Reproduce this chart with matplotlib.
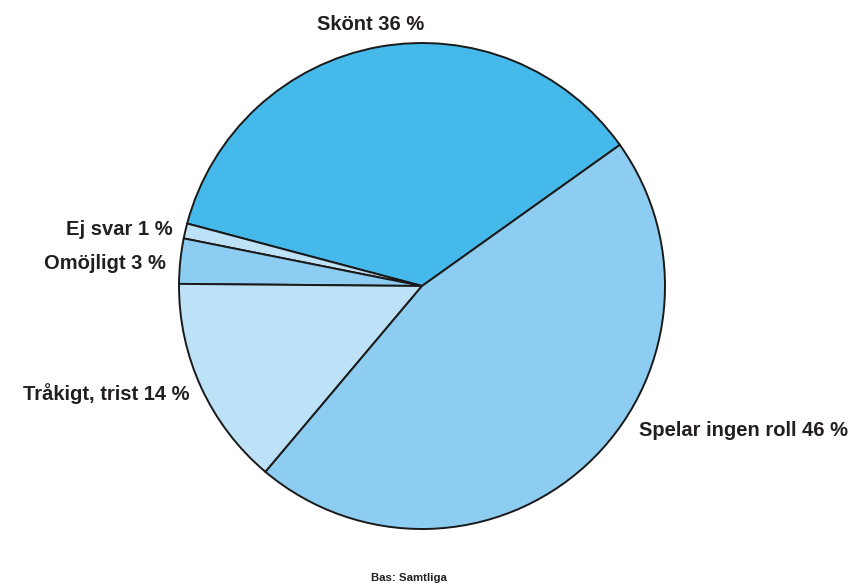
import matplotlib
matplotlib.use("Agg")
import matplotlib.pyplot as plt

categories = ["Skönt", "Ej svar", "Omöjligt", "Tråkigt, trist", "Spelar ingen roll"]
values = [36, 1, 3, 14, 46]
colors = ["#45B9EA", "#BDE1F6", "#8DCDF1", "#BDE1F6", "#8DCDF1"]
footnote = "Bas: Samtliga"

W, H = 852, 588
cx, cy, R = 422, 286, 243

fig = plt.figure(figsize=(W / 100, H / 100), dpi=100)
ax = fig.add_axes([0, 0, 1, 1])
ax.pie(values, colors=colors, startangle=35.5, counterclock=True,
       radius=1.0, center=(0, 0),
       wedgeprops=dict(edgecolor="#1a1a1a", linewidth=1.4))
ax.set_xlim(-cx / R, (W - cx) / R)
ax.set_ylim(-(H - cy) / R, cy / R)
ax.set_aspect("auto")
ax.axis("off")

def px(x, y):
    return ((x - cx) / R, (cy - y) / R)

font = dict(family=["Liberation Sans", "DejaVu Sans"], fontweight="bold",
            color="#231F20", fontsize=14.5)
label_pos = [
    (371, 25, "center"),
    (173, 229, "right"),
    (166, 263, "right"),
    (189, 394, "right"),
    (639, 431, "left"),
]
for cat, val, (x, y, ha) in zip(categories, values, label_pos):
    ax.text(*px(x, y), f"{cat} {val} %", ha=ha, va="center", **font)

ax.text(*px(409, 578), footnote, ha="center", va="center",
        family=["Liberation Sans", "DejaVu Sans"], fontweight="bold",
        color="#231F20", fontsize=8.2)

fig.savefig("out.png", dpi=100)
